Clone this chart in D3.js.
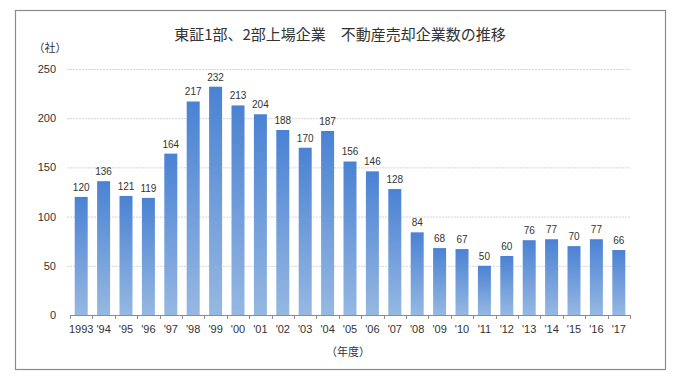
<!DOCTYPE html>
<html><head><meta charset="utf-8">
<script src="https://cdn.jsdelivr.net/npm/d3@7"></script>
<style>body{margin:0;background:#fff}svg{display:block;font-family:"Noto Sans CJK JP","Noto Sans",sans-serif}</style>
</head><body><svg id="c" width="680" height="379"></svg>
<script>
const years = ["1993","'94","'95","'96","'97","'98","'99","'00","'01","'02","'03","'04","'05","'06","'07","'08","'09","'10","'11","'12","'13","'14","'15","'16","'17"];
const values = [120,136,121,119,164,217,232,213,204,188,170,187,156,146,128,84,68,67,50,60,76,77,70,77,66];
const yTicks = [0,50,100,150,200,250];
const title = "東証1部、2部上場企業\u3000不動産売却企業数の推移";

const svg = d3.select("#c");
const defs = svg.append("defs");
const g = defs.append("linearGradient").attr("id","bg").attr("x1",0).attr("y1",0).attr("x2",0).attr("y2",1);
g.append("stop").attr("offset","0%").attr("stop-color","#4a82d3");
g.append("stop").attr("offset","100%").attr("stop-color","#96b8e2");

svg.append("rect").attr("x",15.5).attr("y",10.5).attr("width",650).attr("height",359)
  .attr("fill","#fff").attr("stroke","#8a8a8a").attr("stroke-width",1.2);

const x = d3.scaleBand().domain(years).range([70,630]).paddingInner(0.42).paddingOuter(0.21);
const y = d3.scaleLinear().domain([0,250]).range([315,69]);

svg.append("g").selectAll("line").data(yTicks.filter(d=>d>0)).join("line")
  .attr("x1",67).attr("x2",630).attr("y1",d=>y(d)+0.5).attr("y2",d=>y(d)+0.5)
  .attr("stroke","#d6d6d6").attr("stroke-dasharray","2,1");

svg.append("g").selectAll("text").data(yTicks).join("text")
  .attr("x",56).attr("y",d=>y(d)+4).attr("text-anchor","end")
  .attr("font-size",11).attr("fill","#333").attr("font-family","Liberation Sans, Arial, sans-serif").text(d=>d);

svg.append("g").selectAll("rect").data(values).join("rect")
  .attr("x",(d,i)=>x(years[i])).attr("width",x.bandwidth())
  .attr("y",d=>y(d)).attr("height",d=>y(0)-y(d)).attr("fill","url(#bg)");

svg.append("g").selectAll("text").data(values).join("text")
  .attr("x",(d,i)=>x(years[i])+x.bandwidth()/2).attr("y",d=>y(d)-6)
  .attr("text-anchor","middle").attr("font-size",10).attr("fill","#333")
  .attr("font-family","Liberation Sans, Arial, sans-serif").text(d=>d);

svg.append("line").attr("x1",70).attr("x2",630).attr("y1",315.5).attr("y2",315.5).attr("stroke","#8c8c8c");
const bounds = d3.range(years.length+1).map(i=>70+i*560/years.length);
svg.append("g").selectAll("line").data(bounds).join("line")
  .attr("x1",d=>Math.round(d)+0.5).attr("x2",d=>Math.round(d)+0.5).attr("y1",315).attr("y2",319).attr("stroke","#8c8c8c");

svg.append("g").selectAll("text").data(years).join("text")
  .attr("x",d=>x(d)+x.bandwidth()/2).attr("y",333).attr("text-anchor","middle")
  .attr("font-size",11).attr("fill","#333").attr("font-family","Liberation Sans, Arial, sans-serif").text(d=>d);

svg.append("text").attr("x",340).attr("y",40).attr("text-anchor","middle")
  .attr("font-size",15).attr("fill","#333").text(title);
svg.append("text").attr("x",50).attr("y",52).attr("text-anchor","middle")
  .attr("font-size",11).attr("fill","#333").text("（社）");
svg.append("text").attr("x",348).attr("y",356).attr("text-anchor","middle")
  .attr("font-size",11).attr("fill","#333").text("（年度）");
</script></body></html>
